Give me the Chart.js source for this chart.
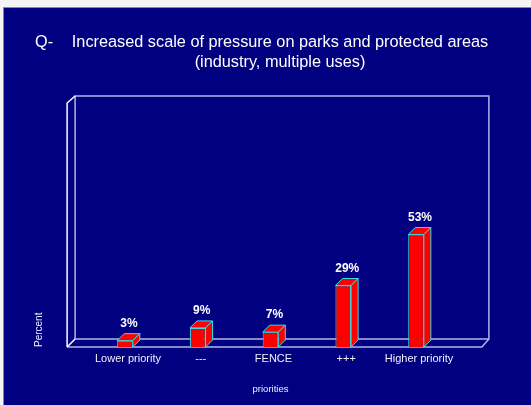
<!DOCTYPE html>
<html>
<head>
<meta charset="utf-8">
<script src="https://cdn.jsdelivr.net/npm/chart.js@4.4.0/dist/chart.umd.min.js"></script>
<style>
  html, body { margin: 0; padding: 0; background: #f4f4f4; }
  #wrap { position: absolute; left: 0; top: 0; width: 531px; height: 405px; }
</style>
</head>
<body>
<div id="wrap"><canvas id="chart" width="531" height="405"></canvas></div>
<script>
// chart data
const categories = ['Lower priority', '---', 'FENCE', '+++', 'Higher priority'];
const percents = [3, 9, 7, 29, 53];
const titleLines = ['Increased scale of pressure on parks and protected areas', '(industry, multiple uses)'];

const NAVY = '#000080';
const DEPTH = 7;
const EDGE = '#33e0e8';

// page background + title
const backdrop = {
  id: 'backdrop',
  beforeDraw(chart) {
    const c = chart.ctx;
    c.save();
    c.fillStyle = '#f4f4f4';
    c.fillRect(0, 0, chart.width, chart.height);
    c.fillStyle = '#8a8a8a';
    c.fillRect(3, 7, chart.width, 1);
    c.fillRect(3, 7, 1, chart.height);
    c.fillStyle = NAVY;
    c.fillRect(4, 8, chart.width, chart.height);
    c.fillStyle = '#ffffff';
    c.font = '16.3px "Liberation Sans", Arial, sans-serif';
    c.textBaseline = 'middle';
    c.textAlign = 'left';
    c.fillText('Q-', 35, 43);
    c.textAlign = 'center';
    c.fillText(titleLines[0], 280, 43);
    c.fillText(titleLines[1], 280, 63);
    c.restore();
  }
};

// 3D box walls and floor
const frame3d = {
  id: 'frame3d',
  beforeDatasetsDraw(chart) {
    const c = chart.ctx;
    const a = chart.chartArea;
    const base = a.bottom;
    const fl = a.left - 21.5, fr = a.right + 29.5, top = 103;
    c.save();
    c.lineWidth = 1.5;
    c.strokeStyle = '#b4b4e6';
    c.beginPath();
    // back wall
    c.moveTo(fl + DEPTH + 1, base - 8);
    c.lineTo(fl + DEPTH + 1, top - 7);
    c.lineTo(fr + DEPTH, top - 7);
    c.lineTo(fr + DEPTH, base - 8);
    c.lineTo(fl + DEPTH + 1, base - 8);
    // floor front
    c.moveTo(fl, base);
    c.lineTo(fr, base);
    c.lineTo(fr + DEPTH, base - 8);
    c.stroke();
    c.strokeStyle = '#ffffff';
    c.beginPath();
    c.moveTo(fl, base);
    c.lineTo(fl, top);
    c.lineTo(fl + DEPTH + 1, top - 7);
    c.moveTo(fl, base);
    c.lineTo(fl + DEPTH + 1, base - 8);
    c.stroke();
    c.restore();
  }
};

// top and side faces + value labels
const bars3d = {
  id: 'bars3d',
  afterDatasetsDraw(chart) {
    const c = chart.ctx;
    const meta = chart.getDatasetMeta(0);
    c.save();
    c.lineWidth = 1;
    c.strokeStyle = EDGE;
    meta.data.forEach((bar, i) => {
      const l = bar.x - bar.width / 2, r = bar.x + bar.width / 2;
      const t = bar.y, b = bar.base;
      c.fillStyle = '#ff0000';
      c.beginPath();
      c.moveTo(l, t);
      c.lineTo(l + DEPTH, t - DEPTH);
      c.lineTo(r + DEPTH, t - DEPTH);
      c.lineTo(r, t);
      c.closePath();
      c.fill();
      c.stroke();
      c.beginPath();
      c.moveTo(r, t);
      c.lineTo(r + DEPTH, t - DEPTH);
      c.lineTo(r + DEPTH, b - DEPTH);
      c.lineTo(r, b);
      c.closePath();
      c.fill();
      c.stroke();
      c.fillStyle = '#ffffff';
      c.font = 'bold 12px "Liberation Sans", Arial, sans-serif';
      c.textAlign = 'center';
      c.textBaseline = 'middle';
      c.fillText(percents[i] + '%', bar.x + 4, t - 17);
    });
    c.restore();
  }
};

new Chart(document.getElementById('chart'), {
  type: 'bar',
  data: {
    labels: categories,
    datasets: [{
      data: percents,
      backgroundColor: '#ff0000',
      borderColor: EDGE,
      borderWidth: 1,
      categoryPercentage: 1,
      barPercentage: 0.215
    }]
  },
  options: {
    responsive: false,
    animation: false,
    events: [],
    layout: { padding: { top: 137, right: 78.6, left: 0, bottom: 0 } },
    plugins: { legend: { display: false }, tooltip: { enabled: false } },
    scales: {
      x: {
        grid: { display: false, drawTicks: false },
        border: { display: false },
        ticks: {
          color: '#f0f0ff',
          font: { family: '"Liberation Sans", Arial, sans-serif', size: 11 },
          padding: 5,
          labelOffset: 3,
          maxRotation: 0,
          autoSkip: false
        },
        title: {
          display: true,
          text: 'priorities',
          color: '#f0f0ff',
          font: { family: '"Liberation Sans", Arial, sans-serif', size: 9.5 },
          padding: { top: 0, bottom: 9.5 }
        },
        afterFit(scale) { scale.height = 58; }
      },
      y: {
        min: 0,
        max: 99,
        grid: { display: false, drawTicks: false },
        border: { display: false },
        ticks: { display: false },
        title: {
          display: true,
          text: 'Percent',
          align: 'start',
          color: '#f0f0ff',
          font: { family: '"Liberation Sans", Arial, sans-serif', size: 10 },
          padding: { top: 33, bottom: 0 }
        },
        afterFit(scale) { scale.width = 88.6; }
      }
    }
  },
  plugins: [backdrop, frame3d, bars3d]
});
</script>
</body>
</html>
